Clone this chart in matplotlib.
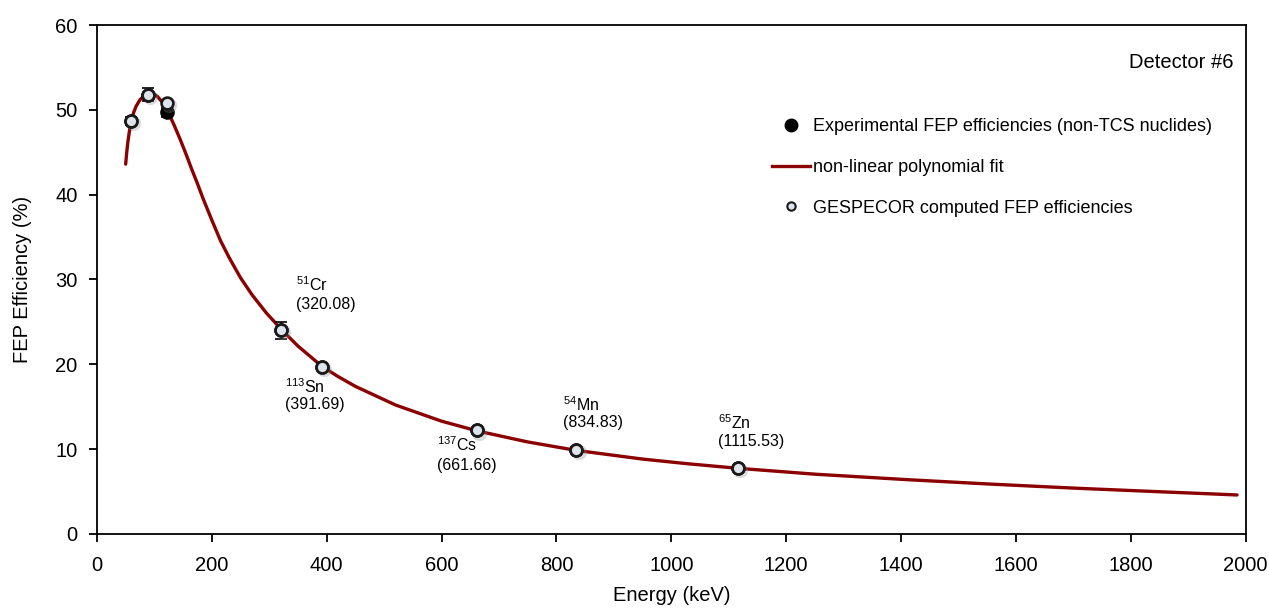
import matplotlib
matplotlib.use('Agg')
import matplotlib.pyplot as plt
import matplotlib.transforms as mtransforms
from matplotlib.lines import Line2D

plt.rcParams['font.family'] = ['Liberation Sans', 'DejaVu Sans']
plt.rcParams['mathtext.fontset'] = 'custom'
plt.rcParams['mathtext.rm'] = 'Liberation Sans'
plt.rcParams['mathtext.it'] = 'Liberation Sans'

# calibration nuclides, gamma energy (keV)
nuclides = ['241Am', '109Cd', '57Co', '51Cr', '113Sn', '137Cs', '54Mn', '65Zn']
energies = [59.54, 88.03, 122.06, 320.08, 391.69, 661.66, 834.83, 1115.53]
# experimental FEP efficiencies (%) and their uncertainties
exp_eff = [48.7, 51.8, 49.7, 24.0, 19.7, 12.2, 9.9, 7.75]
exp_err = [0.5, 0.75, 0.5, 1.0, 0.4, 0.3, 0.3, 0.3]
# GESPECOR computed FEP efficiencies (%)
calc_eff = [48.7, 51.8, 50.8, 24.0, 19.7, 12.2, 9.9, 7.75]

# non-linear polynomial fit curve
fit_e = [50, 52, 54, 57, 60, 64, 68, 75, 85, 95, 105, 115, 125, 135, 145,
         155, 165, 175, 185, 200, 215, 230, 250, 270, 295, 322, 350, 392,
         420, 450, 520, 600, 662, 750, 835, 950, 1030, 1115, 1250, 1412,
         1550, 1703, 1850, 1985]
fit_eff = [43.6, 45.1, 46.3, 47.7, 48.7, 49.7, 50.4, 51.2, 51.85, 52.0, 51.6,
           50.8, 49.6, 48.1, 46.5, 44.8, 43.0, 41.3, 39.5, 37.0, 34.6, 32.6,
           30.2, 28.2, 26.05, 24.05, 22.15, 19.75, 18.55, 17.4, 15.2, 13.3,
           12.15, 10.85, 9.85, 8.83, 8.27, 7.75, 7.05, 6.4, 5.9, 5.4, 4.98,
           4.6]

# where the nuclide labels sit (left edge keV, first line %, second line %)
label_pos = {'51Cr': (347, 29.4, 27.0), '113Sn': (328, 17.4, 15.3),
             '137Cs': (592, 10.5, 8.1), '54Mn': (812, 15.2, 13.1),
             '65Zn': (1081, 13.1, 10.9)}

fig = plt.figure(figsize=(12.69, 6.13), dpi=100)
ax = fig.add_axes([0.0764, 0.1289, 0.9052, 0.8303])

red = '#8b0000'
ax.plot(fit_e, fit_eff, color=red, lw=2.4, zorder=2, solid_capstyle='round',
        solid_joinstyle='round')
ax.errorbar(energies, exp_eff, yerr=exp_err, fmt='o', color='black', ms=9.5,
            capsize=4, elinewidth=1.2, capthick=1.2, zorder=3)

# soft drop shadow under the computed points
shadow = mtransforms.offset_copy(ax.transData, fig=fig, x=1.5, y=-1.5,
                                 units='points')
ax.plot(energies, calc_eff, 'o', ms=11, color='#888888', alpha=0.3,
        mec='none', transform=shadow, zorder=3.5, ls='none')
ax.plot(energies, calc_eff, 'o', ms=8.5, markerfacecolor='#dfe3ec',
        markeredgecolor='#1a1a1a', markeredgewidth=1.9, zorder=4, ls='none')

for name, e in zip(nuclides, energies):
    if name not in label_pos:
        continue
    mass = ''.join(c for c in name if c.isdigit())
    sym = ''.join(c for c in name if c.isalpha())
    x, y1, y2 = label_pos[name]
    ax.text(x, y1, r'$\mathregular{^{%s}}$%s' % (mass, sym), fontsize=11.5,
            ha='left', va='center')
    ax.text(x, y2, '(%.2f)' % e, fontsize=11.5, ha='left', va='center')

ax.text(0.989, 0.927, 'Detector #6', transform=ax.transAxes, fontsize=14.5,
        ha='right', va='center')

handles = [
    Line2D([], [], ls='none', marker='o', color='black', ms=9),
    Line2D([], [], color=red, lw=2.4),
    Line2D([], [], ls='none', marker='o', ms=6, markerfacecolor='#dfe3ec',
           markeredgecolor='#1a1a1a', markeredgewidth=1.5),
]
labels = ['Experimental FEP efficiencies (non-TCS nuclides)',
          'non-linear polynomial fit',
          'GESPECOR computed FEP efficiencies']
ax.legend(handles, labels, loc='upper left', bbox_to_anchor=(0.5876, 0.817),
          frameon=False, fontsize=13, borderpad=0, borderaxespad=0,
          handlelength=2.1, handletextpad=0.2, labelspacing=1.32)

ax.set_xlim(0, 2000)
ax.set_ylim(0, 60)
ax.set_xticks(range(0, 2001, 200))
ax.set_yticks(range(0, 61, 10))
ax.tick_params(direction='out', length=6, width=1.3, labelsize=14.5, pad=8)
ax.tick_params(axis='x', pad=10)
for s in ax.spines.values():
    s.set_linewidth(1.3)
ax.set_xlabel('Energy (keV)', fontsize=14.5, labelpad=8)
ax.set_ylabel('FEP Efficiency (%)', fontsize=14.5, labelpad=17)

fig.savefig('out.png', dpi=100)
